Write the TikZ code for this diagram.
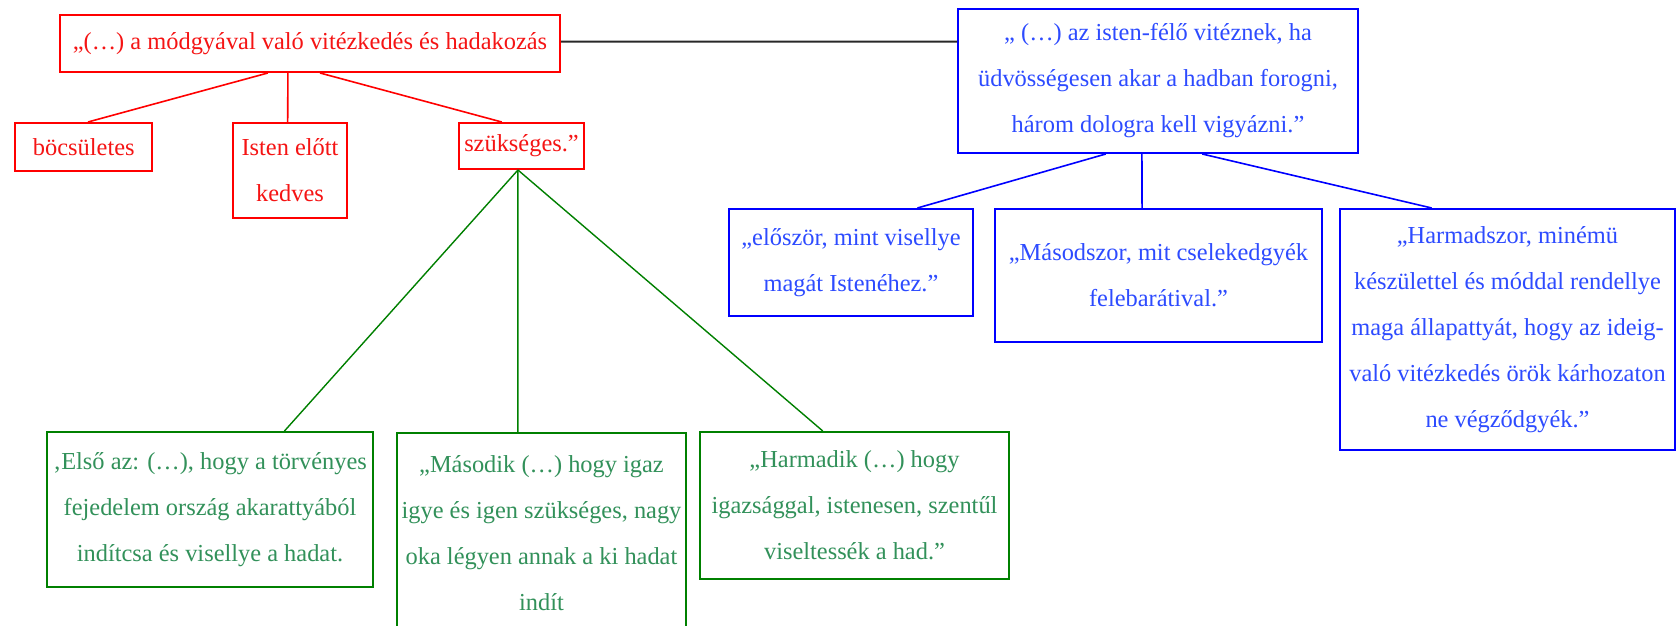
\documentclass[tikz,border=0pt]{standalone}
\usepackage{fontspec}
\setmainfont{Liberation Serif}
\usetikzlibrary{calc}
\definecolor{rline}{RGB}{255,0,0}
\definecolor{rtext}{RGB}{245,20,20}
\definecolor{bline}{RGB}{0,0,255}
\definecolor{btext}{RGB}{45,75,255}
\definecolor{gline}{RGB}{0,128,0}
\definecolor{gtext}{RGB}{50,145,90}
\definecolor{kline}{RGB}{40,40,40}
\begin{document}
\begin{tikzpicture}[x=0.5pt,y=-0.5pt,
  box/.style={draw, line width=1pt, inner sep=0pt, align=center, font=\fontsize{12.2}{23}\selectfont},
  rbox/.style={box, draw=rline, text=rtext},
  bbox/.style={box, draw=bline, text=btext},
  gbox/.style={box, draw=gline, text=gtext},
  rcon/.style={draw=rline, line width=0.8pt},
  bcon/.style={draw=bline, line width=0.8pt},
  gcon/.style={draw=gline, line width=0.7pt},
  kcon/.style={draw=kline, line width=1pt}]
\useasboundingbox (0,0) rectangle (1677,626);
\fill[white] (0,0) rectangle (1677,626);

% red
\node[rbox, minimum width=250pt, minimum height=28.5pt] (top) at (310,43.5) {„(…) a módgyával való vitézkedés és hadakozás};
\node[rbox, minimum width=68.5pt, minimum height=24pt] (bocs) at (83.8,147) {böcsületes};
\node[rbox, minimum width=57pt, minimum height=47.5pt] (isten) at (290,170.5) {Isten előtt\\kedves};
\node[rbox, minimum width=62.5pt, minimum height=23pt] (szuk) at (521.5,146) {szükséges.”};

% blue
\node[bbox, minimum width=200pt, minimum height=72pt] (btop) at (1158,81) {„ (…) az isten-félő vitéznek, ha\\üdvösségesen akar a hadban forogni,\\három dologra kell vigyázni.”};
\node[bbox, minimum width=122pt, minimum height=53.5pt] (elo) at (851,262.5) {„először, mint visellye\\magát Istenéhez.”};
\node[bbox, minimum width=163.5pt, minimum height=66.5pt] (masod) at (1158.5,275.5) {„Másodszor, mit cselekedgyék\\felebarátival.”};
\node[bbox, minimum width=167.5pt, minimum height=120.5pt] (harm) at (1507.5,329.5) {„Harmadszor, minémü\\készülettel és móddal rendellye\\maga állapattyát, hogy az ideig-\\való vitézkedés örök kárhozaton\\ne végződgyék.”};

% green
\node[gbox, minimum width=163pt, minimum height=77.5pt] (g1) at (210,509.5) {‚Első az: (…), hogy a törvényes\\fejedelem ország akarattyából\\indítcsa és visellye a hadat.};
\node[gbox, minimum width=144.5pt, minimum height=100.5pt] (g2) at (541.5,533.5) {„Második (…) hogy igaz\\igye és igen szükséges, nagy\\oka légyen annak a ki hadat\\indít};
\node[gbox, minimum width=154.5pt, minimum height=73.5pt] (g3) at (854.5,505.5) {„Harmadik (…) hogy\\igazsággal, istenesen, szentűl\\viseltessék a had.”};

% connectors
\draw[kcon] ($(top.north east)!0.47!(top.south east)$) -- ($(btop.north west)!0.23!(btop.south west)$);

\draw[rcon] ($(top.south west)!0.416!(top.south east)$) -- ($(bocs.north west)!0.53!(bocs.north east)$);
\draw[rcon] ($(top.south west)!0.456!(top.south east)$) -- ($(isten.north west)!0.48!(isten.north east)$);
\draw[rcon] ($(top.south west)!0.52!(top.south east)$) -- ($(szuk.north west)!0.344!(szuk.north east)$);

\draw[bcon] ($(btop.south west)!0.37!(btop.south east)$) -- ($(elo.north west)!0.77!(elo.north east)$);
\draw[bcon] ($(btop.south west)!0.46!(btop.south east)$) -- ($(masod.north west)!0.45!(masod.north east)$);
\draw[bcon] ($(btop.south west)!0.61!(btop.south east)$) -- ($(harm.north west)!0.275!(harm.north east)$);

\draw[gcon] ($(szuk.south west)!0.472!(szuk.south east)$) -- ($(g1.north west)!0.727!(g1.north east)$);
\draw[gcon] ($(szuk.south west)!0.472!(szuk.south east)$) -- ($(g2.north west)!0.419!(g2.north east)$);
\draw[gcon] ($(szuk.south west)!0.472!(szuk.south east)$) -- ($(g3.north west)!0.398!(g3.north east)$);
\end{tikzpicture}
\end{document}
